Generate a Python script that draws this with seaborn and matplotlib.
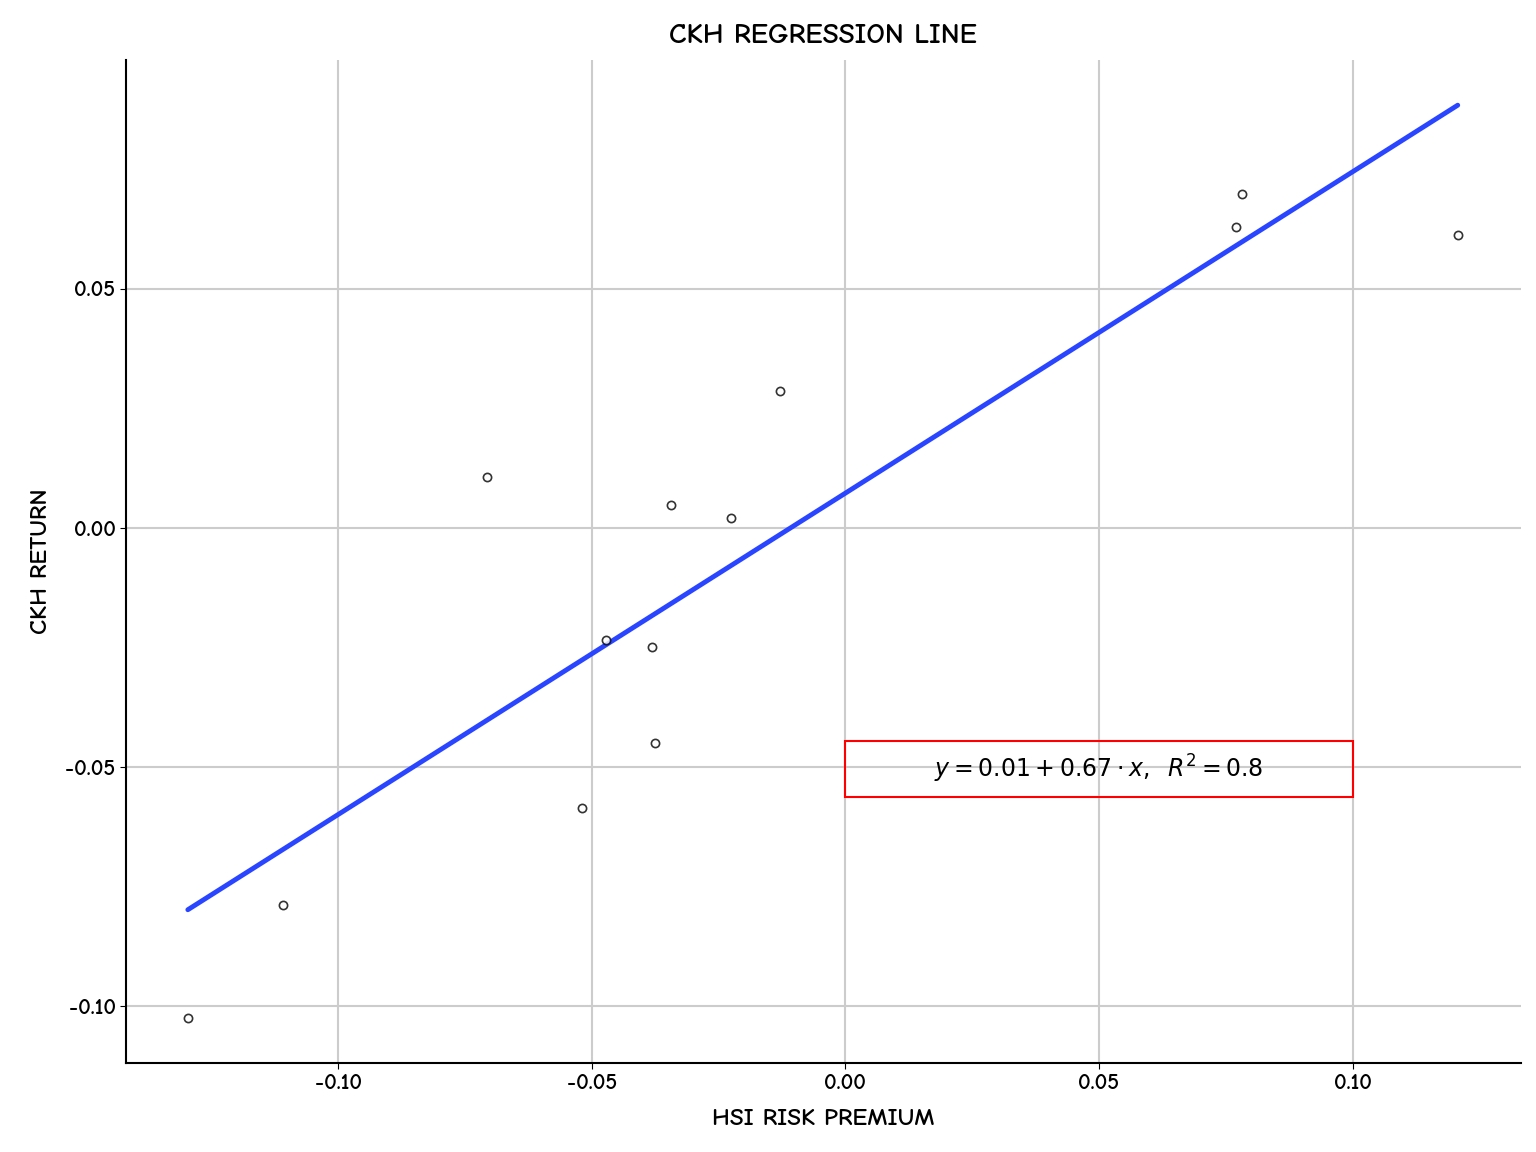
import numpy as np
import pandas as pd
import matplotlib
matplotlib.use("Agg")
import matplotlib.pyplot as plt
import seaborn as sns
from matplotlib.patches import Rectangle

hsi_premium = [-0.1296, -0.1108, -0.0706, -0.0519, -0.0471, -0.0381, -0.0375,
               -0.0343, -0.0225, -0.0128, 0.0769, 0.0781, 0.1207]
ckh_return = [-0.1025, -0.0789, 0.0107, -0.0586, -0.0234, -0.0249, -0.0450,
              0.0048, 0.0021, 0.0287, 0.0630, 0.0699, 0.0613]
x_ticks = [-0.10, -0.05, 0.00, 0.05, 0.10]
y_ticks = [-0.10, -0.05, 0.00, 0.05]

df = pd.DataFrame({"x": hsi_premium, "y": ckh_return})

sns.set_style("white")
plt.rcParams['font.family'] = ['Comic Neue', 'Lato', 'DejaVu Sans']
plt.rcParams['text.color'] = 'black'
plt.rcParams['axes.labelcolor'] = 'black'
plt.rcParams['xtick.color'] = 'black'
plt.rcParams['ytick.color'] = 'black'

fig, ax = plt.subplots(figsize=(15.36, 11.52), dpi=100)
ax.grid(True, color="#cccccc", linewidth=1.5)
ax.set_axisbelow(True)
sns.regplot(data=df, x="x", y="y", ci=None, ax=ax,
            scatter_kws={"s": 35, "facecolor": "white", "edgecolor": "black", "linewidths": 1.2, "zorder": 3},
            line_kws={"color": "#2a45ff", "linewidth": 3.5, "zorder": 2})

ax.set_xlim(-0.1418, 0.1331)
ax.set_ylim(-0.1119, 0.0979)
ax.set_xticks(x_ticks)
ax.set_xticklabels(["-0.10", "-0.05", "0.00", "0.05", "0.10"], fontweight="bold")
ax.set_yticks(y_ticks)
ax.set_yticklabels(["-0.10", "-0.05", "0.00", "0.05"], fontweight="bold")
ax.tick_params(labelsize=16, length=4, left=True, bottom=True)
for s in ["top", "right"]:
    ax.spines[s].set_visible(False)
for s in ["left", "bottom"]:
    ax.spines[s].set_color("black")
    ax.spines[s].set_linewidth(1.5)

ax.add_patch(Rectangle((0.0, -0.0563), 0.1, 0.0118, fill=False, edgecolor="red", linewidth=1.5, zorder=4))
ax.text(0.05, -0.0504, r"$y = 0.01 + 0.67 \cdot x,\;\; R^2 = 0.8$", ha="center", va="center",
        fontsize=17, family="DejaVu Sans", zorder=5)

ax.set_title("CKH REGRESSION LINE", fontsize=21, pad=12, fontweight="bold")
ax.set_xlabel("HSI RISK PREMIUM", fontsize=18, fontweight="bold", labelpad=12)
ax.set_ylabel("CKH RETURN", fontsize=18, fontweight="bold", labelpad=10)

plt.subplots_adjust(left=0.082, right=0.99, top=0.948, bottom=0.077)
plt.savefig("out.png", dpi=100)
plt.close()
